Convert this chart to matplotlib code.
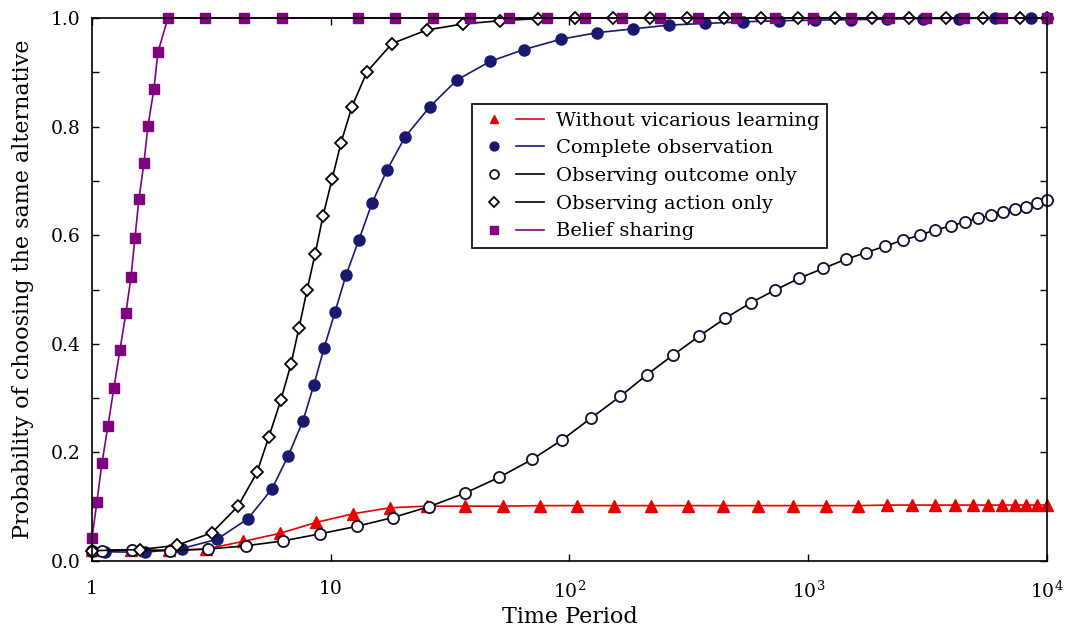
import matplotlib
matplotlib.use("Agg")
import matplotlib.pyplot as plt
from matplotlib.lines import Line2D
from matplotlib.legend_handler import HandlerTuple
from matplotlib.ticker import FixedLocator, MultipleLocator, NullLocator

plt.rcParams['font.family'] = 'DejaVu Serif'
plt.rcParams['mathtext.fontset'] = 'dejavuserif'

# time periods and choice probabilities for each learning mode
t_none = [1.0, 1.457, 2.10, 3.00, 4.29, 6.13, 8.68, 12.4, 17.7, 25.3, 36.5, 52.7, 75.3,
          107.6, 153.8, 219.7, 314, 440, 617, 864, 1189, 1618, 2141, 2725, 3401, 4125,
          4907, 5671, 6493, 7359, 8183, 9100, 10000]
p_none = [0.020, 0.020, 0.020, 0.022, 0.036, 0.051, 0.071, 0.087, 0.098, 0.101, 0.101,
          0.101, 0.102, 0.102, 0.102, 0.102, 0.102, 0.102, 0.102, 0.102, 0.102, 0.102,
          0.103, 0.103, 0.103, 0.103, 0.103, 0.103, 0.103, 0.103, 0.103, 0.103, 0.103]

t_complete = [1.0, 1.134, 1.668, 2.383, 3.341, 4.504, 5.677, 6.625, 7.656, 8.511, 9.376,
              10.43, 11.6, 13.14, 14.89, 17.21, 20.48, 26.06, 33.8, 46.5, 64.5, 92.2,
              130.5, 184.7, 261.4, 369.8, 533.8, 755, 1069, 1513, 2142, 3030, 4287,
              6067, 8590, 10000]
p_complete = [0.018, 0.017, 0.016, 0.023, 0.040, 0.078, 0.133, 0.193, 0.258, 0.325,
              0.392, 0.459, 0.527, 0.592, 0.659, 0.720, 0.781, 0.837, 0.886, 0.920,
              0.942, 0.961, 0.973, 0.980, 0.987, 0.990, 0.993, 0.995, 0.996, 0.997,
              0.998, 0.999, 0.999, 1.0, 1.0, 1.0]

t_outcome = [1.0, 1.10, 1.47, 2.12, 3.06, 4.42, 6.31, 9.02, 12.9, 18.2, 25.8, 36.5,
             50.7, 69.7, 93.1, 123, 163, 211, 271, 349, 449, 577, 727, 919, 1158, 1442,
             1750, 2102, 2494, 2943, 3402, 3969, 4540, 5163, 5820, 6573, 7360, 8185,
             9074, 10000]
p_outcome = [0.019, 0.019, 0.020, 0.019, 0.022, 0.028, 0.037, 0.050, 0.064, 0.080,
             0.100, 0.125, 0.154, 0.187, 0.223, 0.263, 0.303, 0.343, 0.379, 0.414,
             0.447, 0.476, 0.499, 0.521, 0.539, 0.556, 0.568, 0.580, 0.591, 0.600,
             0.610, 0.617, 0.625, 0.631, 0.637, 0.643, 0.648, 0.652, 0.659, 0.664]

t_action = [1.0, 1.589, 2.27, 3.18, 4.09, 4.91, 5.51, 6.19, 6.82, 7.37, 7.96, 8.60,
            9.28, 10.13, 11.04, 12.28, 14.19, 18.06, 25.3, 35.8, 51.2, 73.9, 105.6,
            152.3, 217.7, 311, 444, 635, 907, 1296, 1852, 2647, 3782, 5404, 7723, 10000]
p_action = [0.019, 0.021, 0.029, 0.052, 0.101, 0.163, 0.229, 0.297, 0.363, 0.430,
            0.499, 0.565, 0.635, 0.703, 0.770, 0.837, 0.901, 0.953, 0.978, 0.989,
            0.995, 0.999, 1.0, 1.0, 1.0, 1.0, 1.0, 1.0, 1.0, 1.0, 1.0, 1.0, 1.0, 1.0,
            1.0, 1.0]

t_belief = [1.0, 1.049, 1.101, 1.167, 1.236, 1.310, 1.388, 1.457, 1.514, 1.573, 1.651,
            1.716, 1.818, 1.889, 2.081, 2.975, 4.33, 6.25, 13.01, 18.6, 26.8, 38.3,
            55.8, 80.6, 116.3, 166.2, 239.7, 345.8, 498.9, 726.8, 1048, 1512, 2183,
            3118, 4499, 6493, 10000]
p_belief = [0.042, 0.109, 0.180, 0.249, 0.319, 0.389, 0.457, 0.523, 0.595, 0.667,
            0.733, 0.801, 0.869, 0.937, 1.0, 1.0, 1.0, 1.0, 1.0, 1.0, 1.0, 1.0, 1.0,
            1.0, 1.0, 1.0, 1.0, 1.0, 1.0, 1.0, 1.0, 1.0, 1.0, 1.0, 1.0, 1.0, 1.0]

labels = ["Without vicarious learning", "Complete observation",
          "Observing outcome only", "Observing action only", "Belief sharing"]

RED = '#e80000'
NAVY = '#191970'
PURPLE = '#800080'

styles = [
    dict(color=RED, marker='^', mfc=RED, mec=RED, ms=8),
    dict(color=NAVY, marker='o', mfc=NAVY, mec=NAVY, ms=8),
    dict(color='black', marker='o', mfc='white', mec='#101030', ms=8, mew=1.3),
    dict(color='black', marker='D', mfc='white', mec='black', ms=6, mew=1.3),
    dict(color=PURPLE, marker='s', mfc=PURPLE, mec=PURPLE, ms=7),
]
series = [(t_none, p_none), (t_complete, p_complete), (t_outcome, p_outcome),
          (t_action, p_action), (t_belief, p_belief)]

fig = plt.figure(figsize=(10.68, 6.41), dpi=100)
ax = fig.add_axes([0.0861, 0.1248, 0.8942, 0.8471])

handles = []
for (t, p), st in zip(series, styles):
    ax.plot(t, p, lw=1.2, clip_on=False, **st)
    mk = Line2D([], [], ls='none', marker=st['marker'], mfc=st['mfc'], mec=st['mec'],
                ms=st['ms'] * 0.8, mew=st.get('mew', 1.0))
    ln = Line2D([], [], color=st['color'], lw=1.2)
    handles.append((mk, ln))

ax.set_xscale('log')
ax.set_xlim(1, 1e4)
ax.set_ylim(0, 1)
ax.xaxis.set_major_locator(FixedLocator([1, 10, 100, 1000, 10000]))
ax.xaxis.set_minor_locator(NullLocator())
ax.set_xticklabels(['1', '10', '$10^2$', '$10^3$', '$10^4$'])
ax.yaxis.set_major_locator(MultipleLocator(0.2))
ax.yaxis.set_minor_locator(MultipleLocator(0.1))
ax.yaxis.set_major_formatter(plt.FormatStrFormatter('%.1f'))

ax.tick_params(which='both', direction='in', top=True, right=True, length=5,
               width=1.0, labelsize=13.5)
ax.tick_params(axis='x', pad=14)
ax.tick_params(axis='y', pad=8)
for s in ax.spines.values():
    s.set_linewidth(1.2)

ax.set_xlabel('Time Period', fontsize=16, labelpad=3)
ax.set_ylabel('Probability of choosing the same alternative', fontsize=16, labelpad=12)

leg = ax.legend(handles, labels, handler_map={tuple: HandlerTuple(ndivide=None, pad=0.4)},
                loc='upper left', bbox_to_anchor=(0.398, 0.842), fontsize=14,
                handlelength=3.3, handletextpad=0.6, labelspacing=0.5,
                borderpad=0.4, borderaxespad=0, fancybox=False, framealpha=1,
                edgecolor='black')
leg.get_frame().set_linewidth(1.2)

fig.savefig('out.png', dpi=100)
